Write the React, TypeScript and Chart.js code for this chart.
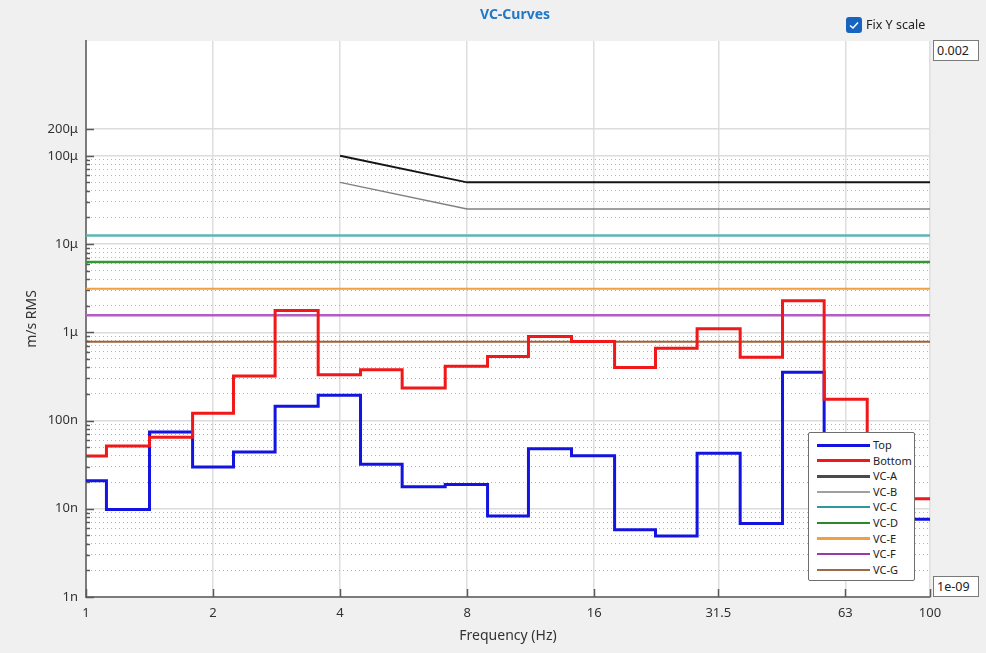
import React, { useEffect, useRef } from "react";
import { Chart, registerables } from "chart.js";

Chart.register(...registerables);

// 1/3-octave band centre frequencies (Hz)
const bands = [1, 1.25, 1.6, 2, 2.5, 3.15, 4, 5, 6.3, 8, 10, 12.5, 16, 20, 25, 31.5, 40, 50, 63, 80, 100];

// Velocity RMS (m/s) per band
const topValues = [
  20.8e-9, 9.8e-9, 74e-9, 29.8e-9, 44e-9, 145e-9, 194e-9, 32e-9, 17.8e-9, 18.8e-9, 8.3e-9,
  48e-9, 40e-9, 5.8e-9, 4.9e-9, 42.6e-9, 6.8e-9, 353e-9, 25e-9, 10e-9, 7.6e-9,
];
const bottomValues = [
  39.7e-9, 51.5e-9, 64.7e-9, 121e-9, 320e-9, 1760e-9, 331e-9, 375e-9, 234e-9, 413e-9, 530e-9,
  894e-9, 785e-9, 398e-9, 660e-9, 1093e-9, 522e-9, 2270e-9, 174e-9, 45e-9, 13.0e-9,
];

// VC criterion curves
const vcSlopedFreq = [4, 8, 100];
const vcAValues = [100e-6, 50e-6, 50e-6];
const vcBValues = [50e-6, 25e-6, 25e-6];
const vcFlatFreq = [1, 100];
const vcCValue = 12.5e-6;
const vcDValue = 6.25e-6;
const vcEValue = 3.12e-6;
const vcFValue = 1.56e-6;
const vcGValue = 0.78e-6;

// Axis ticks
const xTickValues = [1, 2, 4, 8, 16, 31.5, 63, 100];
const xTickLabels = ["1", "2", "4", "8", "16", "31.5", "63", "100"];
const yMajorValues = [1e-9, 1e-8, 1e-7, 1e-6, 1e-5, 1e-4, 2e-4];
const yMajorLabels = ["1n", "10n", "100n", "1μ", "10μ", "100μ", "200μ"];
const yMinorDecades = [1e-9, 1e-8, 1e-7, 1e-6, 1e-5];
const yMinorMultipliers = [2, 3, 4, 5, 6, 7, 8, 9];
const yMin = 1e-9;
const yMax = 2e-3;

const yMinorValues: number[] = [];
yMinorDecades.forEach((d) => yMinorMultipliers.forEach((m) => yMinorValues.push(m * d)));
const yTickValues = [...yMajorValues, ...yMinorValues].sort((a, b) => a - b);

const isMajorY = (v: number) => yMajorValues.some((m) => Math.abs(v - m) / m < 1e-6);
const majorLabel = (v: number) => {
  const i = yMajorValues.findIndex((m) => Math.abs(v - m) / m < 1e-6);
  return i >= 0 ? yMajorLabels[i] : "";
};

const legendItems = [
  { label: "Top", color: "#1414e0", width: 3 },
  { label: "Bottom", color: "#f01818", width: 3 },
  { label: "VC-A", color: "#4a4a4a", width: 3 },
  { label: "VC-B", color: "#a0a0a0", width: 2.5 },
  { label: "VC-C", color: "#2a9a9a", width: 2 },
  { label: "VC-D", color: "#2a8a2a", width: 2.5 },
  { label: "VC-E", color: "#f0a040", width: 2.5 },
  { label: "VC-F", color: "#9a3aaa", width: 2 },
  { label: "VC-G", color: "#9a6a4a", width: 2.5 },
];

const FONT = "'Noto Sans', 'DejaVu Sans', sans-serif";

const plotBg = {
  id: "plotBg",
  beforeDraw(chart: any) {
    const { ctx, chartArea } = chart;
    ctx.save();
    ctx.fillStyle = "#ffffff";
    ctx.fillRect(chartArea.left, chartArea.top, chartArea.right - chartArea.left, chartArea.bottom - chartArea.top);
    ctx.restore();
  },
};

const inwardTicks = {
  id: "inwardTicks",
  afterDraw(chart: any) {
    const { ctx, chartArea, scales } = chart;
    ctx.save();
    ctx.strokeStyle = "#5a5a5a";
    ctx.lineWidth = 1.5;
    scales.y.ticks.forEach((t: any) => {
      const y = Math.round(scales.y.getPixelForValue(t.value)) + 0.5;
      const len = isMajorY(t.value) ? 8 : 4;
      ctx.beginPath();
      ctx.moveTo(chartArea.left, y);
      ctx.lineTo(chartArea.left + len, y);
      ctx.stroke();
    });
    scales.x.ticks.forEach((t: any) => {
      const x = Math.round(scales.x.getPixelForValue(t.value)) + 0.5;
      ctx.beginPath();
      ctx.moveTo(x, chartArea.bottom);
      ctx.lineTo(x, chartArea.bottom - 8);
      ctx.stroke();
    });
    ctx.restore();
  },
};

function App() {
  const canvasRef = useRef<HTMLCanvasElement | null>(null);

  useEffect(() => {
    if (!canvasRef.current) return;
    Chart.defaults.font.family = FONT;
    const pts = (xs: number[], ys: number[]) => xs.map((x, i) => ({ x, y: ys[i] }));
    const flat = (v: number) => vcFlatFreq.map((x) => ({ x, y: v }));

    const chart = new Chart(canvasRef.current, {
      type: "line",
      data: {
        datasets: [
          { label: "Top", data: pts(bands, topValues), borderColor: "#1414e0", borderWidth: 3, stepped: "middle", order: 1 },
          { label: "Bottom", data: pts(bands, bottomValues), borderColor: "#f01818", borderWidth: 3, stepped: "middle", order: 0 },
          { label: "VC-A", data: pts(vcSlopedFreq, vcAValues), borderColor: "#151515", borderWidth: 2, order: 2 },
          { label: "VC-B", data: pts(vcSlopedFreq, vcBValues), borderColor: "#808080", borderWidth: 1.5, order: 2 },
          { label: "VC-C", data: flat(vcCValue), borderColor: "#5cb6b6", borderWidth: 2.5, order: 2 },
          { label: "VC-D", data: flat(vcDValue), borderColor: "#349634", borderWidth: 2.5, order: 2 },
          { label: "VC-E", data: flat(vcEValue), borderColor: "#f0a040", borderWidth: 2, order: 2 },
          { label: "VC-F", data: flat(vcFValue), borderColor: "#b45cc4", borderWidth: 2.5, order: 2 },
          { label: "VC-G", data: flat(vcGValue), borderColor: "#9c6238", borderWidth: 2, order: 2 },
        ] as any,
      },
      options: {
        animation: false,
        responsive: false,
        maintainAspectRatio: false,
        layout: { padding: { top: 41, right: 56, left: 0, bottom: 0 } },
        elements: { point: { radius: 0 }, line: { tension: 0 } },
        plugins: { legend: { display: false }, tooltip: { enabled: false }, title: { display: false } },
        scales: {
          x: {
            type: "logarithmic",
            min: 1,
            max: 100,
            afterBuildTicks: (s: any) => {
              s.ticks = xTickValues.map((v) => ({ value: v }));
            },
            afterFit: (s: any) => {
              s.height = 56;
            },
            ticks: {
              autoSkip: false,
              maxRotation: 0,
              padding: 8,
              color: "#333333",
              font: { size: 13 },
              callback: (_v: any, i: number) => xTickLabels[i],
            },
            grid: { color: "#dedede", lineWidth: 1.5, drawTicks: false },
            border: { display: true, color: "#7c7c7c", width: 2 },
            title: {
              display: true,
              text: "Frequency (Hz)",
              color: "#333333",
              font: { size: 14 },
              padding: { top: 0, bottom: 9 },
            },
          },
          y: {
            type: "logarithmic",
            min: yMin,
            max: yMax,
            afterBuildTicks: (s: any) => {
              s.ticks = yTickValues.map((v) => ({ value: v }));
            },
            afterFit: (s: any) => {
              s.width = 86;
            },
            ticks: {
              autoSkip: false,
              padding: 8,
              color: "#333333",
              font: { size: 13 },
              callback: (v: any) => majorLabel(Number(v)),
            },
            grid: {
              drawTicks: false,
              color: (c: any) => (c.tick && !isMajorY(c.tick.value) ? "#b4b4b4" : "#dcdcdc"),
              lineWidth: (c: any) => (c.tick && !isMajorY(c.tick.value) ? 1 : 1.5),
            },
            border: {
              display: true,
              color: "#7c7c7c",
              width: 2,
              dash: (c: any) => (c.tick && !isMajorY(c.tick.value) ? [1, 3] : []),
            },
            title: {
              display: true,
              text: "m/s RMS",
              color: "#333333",
              font: { size: 14 },
              padding: { top: 24, bottom: 0 },
            },
          },
        },
      } as any,
      plugins: [plotBg, inwardTicks],
    });
    return () => chart.destroy();
  }, []);

  const boxStyle: React.CSSProperties = {
    position: "absolute",
    left: 933,
    width: 46,
    background: "#ffffff",
    border: "1px solid #7a7a7a",
    boxSizing: "border-box",
    fontSize: 12.5,
    color: "#222",
    paddingLeft: 3,
    fontFamily: FONT,
  };

  return (
    <div
      style={{
        position: "absolute",
        left: 0,
        top: 0,
        width: 986,
        height: 653,
        background: "#f0f0f0",
        overflow: "hidden",
        fontFamily: FONT,
      }}
    >
      <canvas ref={canvasRef} width={986} height={653} style={{ position: "absolute", left: 0, top: 0, width: 986, height: 653 }} />
      <div
        style={{
          position: "absolute",
          left: 415,
          width: 200,
          top: 5,
          lineHeight: "18px",
          textAlign: "center",
          fontWeight: "bold",
          fontSize: 14,
          color: "#1f78c8",
        }}
      >
        VC-Curves
      </div>
      <div
        style={{
          position: "absolute",
          left: 846,
          top: 17,
          width: 16,
          height: 16,
          borderRadius: 3,
          background: "#1565c0",
        }}
      >
        <svg width="16" height="16" viewBox="0 0 16 16" style={{ display: "block" }}>
          <polyline points="4,8.5 7,11 12,5.5" fill="none" stroke="#ffffff" strokeWidth="1.5" />
        </svg>
      </div>
      <div style={{ position: "absolute", left: 866, top: 16, lineHeight: "18px", fontSize: 12.5, color: "#222" }}>
        Fix Y scale
      </div>
      <div style={{ ...boxStyle, top: 40, height: 21, lineHeight: "19px" }}>0.002</div>
      <div style={{ ...boxStyle, top: 576, height: 21, lineHeight: "19px" }}>1e-09</div>
      <div
        style={{
          position: "absolute",
          left: 808,
          top: 432,
          width: 107,
          height: 149,
          background: "#ffffff",
          border: "1.5px solid #6e6e6e",
          borderRadius: 2,
          boxSizing: "border-box",
        }}
      >
        {legendItems.map((it, i) => (
          <div key={it.label} style={{ position: "absolute", left: 0, top: 3 + i * 15.6, height: 18, width: 104 }}>
            <div
              style={{
                position: "absolute",
                left: 8,
                top: 9 - it.width / 2,
                width: 53,
                height: it.width,
                background: it.color,
              }}
            />
            <div style={{ position: "absolute", left: 64, top: 0, lineHeight: "18px", fontSize: 11, color: "#222" }}>
              {it.label}
            </div>
          </div>
        ))}
      </div>
    </div>
  );
}

export default App;
